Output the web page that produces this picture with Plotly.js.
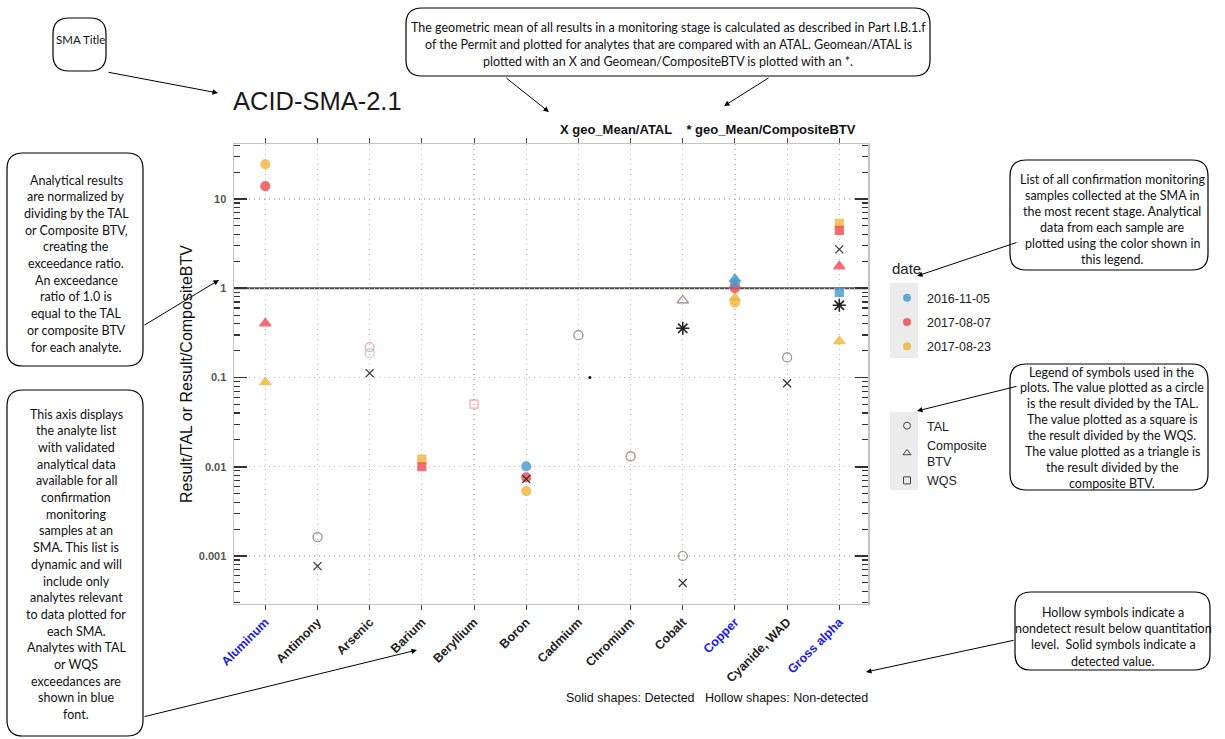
<!DOCTYPE html>
<html><head><meta charset="utf-8">
<script src="https://cdn.plot.ly/plotly-3.0.1.min.js"></script>
<style>body{margin:0;background:#fff}#chart{width:1225px;height:739px}</style>
</head><body><div id="chart"></div>
<script>
// ---------------- data ----------------
const analytes = ['Aluminum','Antimony','Arsenic','Barium','Beryllium','Boron','Cadmium','Chromium','Cobalt','Copper','Cyanide, WAD','Gross alpha'];
const exceedanceAnalytes = ['Aluminum','Copper','Gross alpha'];
const dates = ['2016-11-05','2017-08-07','2017-08-23'];
const dateColors = ['#4a9bd0','#f04d55','#f0b73e'];

// sample 2016-11-05
const s1Analyte  = ['Antimony','Arsenic','Boron','Cadmium','Chromium','Cobalt','Cobalt','Copper','Copper','Cyanide, WAD','Gross alpha'];
const s1Value    = [0.00163,0.187,0.0101,0.298,0.0131,0.00100,0.73,1.15,1.27,0.168,0.90];
const s1Basis    = ['TAL','TAL','TAL','TAL','TAL','TAL','BTV','TAL','BTV','TAL','WQS'];
const s1Detected = [false,false,true,false,false,false,false,true,true,false,true];
// sample 2017-08-07
const s2Analyte  = ['Aluminum','Aluminum','Antimony','Arsenic','Barium','Beryllium','Boron','Cadmium','Chromium','Cobalt','Cobalt','Copper','Copper','Cyanide, WAD','Gross alpha','Gross alpha'];
const s2Value    = [13.9,0.405,0.00163,0.219,0.0100,0.0502,0.0076,0.298,0.0131,0.00100,0.73,1.0,1.08,0.168,4.46,1.76];
const s2Basis    = ['TAL','BTV','TAL','TAL','WQS','WQS','TAL','TAL','TAL','TAL','BTV','TAL','BTV','TAL','WQS','BTV'];
const s2Detected = [true,true,false,false,true,false,true,false,false,false,false,true,true,false,true,true];
// sample 2017-08-23
const s3Analyte  = ['Aluminum','Aluminum','Antimony','Barium','Boron','Cadmium','Chromium','Cobalt','Cobalt','Copper','Copper','Cyanide, WAD','Gross alpha','Gross alpha'];
const s3Value    = [24.5,0.0886,0.00163,0.0122,0.00533,0.298,0.0131,0.00100,0.73,0.69,0.78,0.168,5.35,0.255];
const s3Basis    = ['TAL','BTV','TAL','WQS','TAL','TAL','TAL','TAL','BTV','TAL','BTV','TAL','WQS','BTV'];
const s3Detected = [true,true,false,true,true,false,false,false,false,true,true,false,true,true];

// geometric means
const geoAtalAnalyte = ['Antimony','Arsenic','Boron','Cobalt','Cyanide, WAD','Gross alpha'];
const geoAtalValue   = [0.00077,0.112,0.0073,0.000498,0.0863,2.73];
const geoBtvAnalyte  = ['Cobalt','Gross alpha'];
const geoBtvValue    = [0.356,0.645];
// stray point marker
const dotAnalyte = ['Cadmium'];
const dotValue = [0.1];
const dotJitter = [0.22];

const yTickVals = [0.001,0.01,0.1,1,10];
const yTickText = ['0.001','0.01','0.1','1','10'];
const shapeNames = ['TAL','Composite<br>BTV','WQS'];

// ---------------- layout helpers ----------------
const W = 1225, H = 739;
const ML = 234, MT = 144, PW = 634, PH = 460;
const px = x => (x - ML) / PW;
const py = y => (MT + PH - y) / PH;
const idx = a => analytes.indexOf(a);
const symBase = {TAL:'circle', BTV:'triangle-up', WQS:'square'};
const symSize = {TAL:9, BTV:10, WQS:8};

const traces = [];
const samples = [
  [s1Analyte,s1Value,s1Basis,s1Detected],
  [s2Analyte,s2Value,s2Basis,s2Detected],
  [s3Analyte,s3Value,s3Basis,s3Detected]
];
// draw latest sample first so the earliest (blue) sits on top
[2,1,0].forEach(i=>{
  const [a,v,b,d] = samples[i];
  traces.push({
    type:'scatter', mode:'markers', showlegend:false, hoverinfo:'skip',
    x:a.map(idx), y:v,
    marker:{
      symbol:b.map((bb,k)=>symBase[bb] + (d[k] ? '' : '-open')),
      size:b.map(bb=>symSize[bb]),
      color:dateColors[i],
      opacity:d.map(dd=>dd?0.82:0.5),
      line:{width:1.2, color:dateColors[i]}
    }
  });
});
traces.push({type:'scatter',mode:'markers',showlegend:false,hoverinfo:'skip',
  x:geoAtalAnalyte.map(idx), y:geoAtalValue,
  marker:{symbol:'x-thin-open', size:8, line:{width:1.2,color:'#333'}, color:'#333'}});
traces.push({type:'scatter',mode:'markers',showlegend:false,hoverinfo:'skip',
  x:geoBtvAnalyte.map(idx), y:geoBtvValue,
  marker:{symbol:'asterisk-open', size:11, line:{width:1.6,color:'#222'}, color:'#222'}});
traces.push({type:'scatter',mode:'markers',showlegend:false,hoverinfo:'skip',
  x:dotAnalyte.map((a,k)=>idx(a)+dotJitter[k]), y:dotValue,
  marker:{symbol:'circle', size:3, color:'#000'}});

// legend: dates
dates.forEach((d,i)=>traces.push({type:'scatter',mode:'markers',name:d,x:[null],y:[null],
  legend:'legend', legendgroup:'d'+i, marker:{symbol:'circle',size:8,color:dateColors[i],opacity:0.85}}));
// legend: shapes
['circle-open','triangle-up-open','square-open'].forEach((s,i)=>traces.push({type:'scatter',mode:'markers',
  name:shapeNames[i], x:[null], y:[null], legend:'legend2', legendgroup:'s'+i,
  marker:{symbol:s,size:7,color:'#444',line:{width:1,color:'#444'}}}));

// minor ticks
const minorVals = [];
for (let e=-4;e<=1;e++) for (let m=2;m<=9;m++) minorVals.push(m*Math.pow(10,e));

// ---------------- callouts ----------------
const shapes = [];
const annotations = [];
const calloutFont = {family:'Lato, Open Sans, sans-serif', size:12.5, color:'#111'};
function roundRect(x0,y0,x1,y1,r){
  const P=(x,y)=>px(x)+','+py(y);
  return 'M'+P(x0+r,y0)+' L'+P(x1-r,y0)+' Q'+P(x1,y0)+' '+P(x1,y0+r)+
    ' L'+P(x1,y1-r)+' Q'+P(x1,y1)+' '+P(x1-r,y1)+' L'+P(x0+r,y1)+
    ' Q'+P(x0,y1)+' '+P(x0,y1-r)+' L'+P(x0,y0+r)+' Q'+P(x0,y0)+' '+P(x0+r,y0)+' Z';
}
function callout(box, lines, cx, y0, dy, arrows, fsize){
  shapes.push({type:'path', xref:'paper', yref:'paper', path:roundRect(box[0],box[1],box[2],box[3],16),
    line:{color:'#000',width:1.2}, fillcolor:'rgba(255,255,255,0)', layer:'above'});
  const f = fsize ? Object.assign({}, calloutFont, {size:fsize}) : calloutFont;
  lines.forEach((t,i)=>annotations.push({xref:'paper',yref:'paper',x:px(cx),y:py(y0+i*dy),
    text:t,showarrow:false,xanchor:'center',yanchor:'middle',font:f}));
  (arrows||[]).forEach(a=>annotations.push({xref:'paper',yref:'paper',x:px(a[2]),y:py(a[3]),
    ax:a[0]-a[2], ay:a[1]-a[3], text:'', showarrow:true, arrowhead:2, arrowsize:1.1, arrowwidth:1,
    arrowcolor:'#000', standoff:0, startstandoff:0}));
}
callout([53,18,106,71],['SMA Title'],80,40,17,[[107,72,218,93]],11.5);
callout([406,8,930,76],[
  'The geometric mean of all results in a monitoring stage is calculated as described in Part I.B.1.f',
  'of the Permit and plotted for analytes that are compared with an ATAL. Geomean/ATAL is',
  'plotted with an X and Geomean/CompositeBTV is plotted with an *.'],668,27,17.5,
  [[505,77,549,112],[770,77,724,106]]);
callout([7,153,143,366],['Analytical results','are normalized by','dividing by the TAL','or Composite BTV,',
  'creating the','exceedance ratio.','An exceedance','ratio of 1.0 is','equal to the TAL','or composite BTV',
  'for each analyte.'],76,180,16.7,[[143,326,219,280]]);
callout([7,390,143,736],['This axis displays','the analyte list','with validated','analytical data',
  'available for all','confirmation','monitoring','samples at an','SMA. This list is','dynamic and will',
  'include only','analytes relevant','to data plotted for','each SMA.','Analytes with TAL','or WQS',
  'exceedances are','shown in blue','font.'],76,414,16.7,[[143,717,417,650]]);
callout([1010,160,1208,270],['List of all confirmation monitoring','samples collected at the SMA in',
  'the most recent stage. Analytical','data from each sample are','plotted using the color shown in',
  'this legend.'],1112,179,16,[[1018,242,917,276]]);
callout([1010,364,1208,490],['Legend of symbols used in the','plots. The value plotted as a circle',
  'is the result divided by the TAL.','The value plotted as a square is','the result divided by the WQS.',
  'The value plotted as a triangle is','the result divided by the','composite BTV.'],1112,372,15.9,
  [[1018,386,917,411]]);
callout([1015,592,1210,670],['Hollow symbols indicate a','nondetect result below quantitation',
  'level.  Solid symbols indicate a','detected value.'],1113,612,16.4,[[1015,640,866,672]]);

// chart texts
annotations.push({xref:'paper',yref:'paper',x:px(858),y:py(129),xanchor:'right',yanchor:'middle',showarrow:false,
  text:'<b>X geo_Mean/ATAL    * geo_Mean/CompositeBTV</b>',font:{family:'Liberation Sans, Arial',size:13,color:'#111'}});
annotations.push({xref:'paper',yref:'paper',x:px(870),y:py(698),xanchor:'right',yanchor:'middle',showarrow:false,
  text:'Solid shapes: Detected   Hollow shapes: Non-detected',font:{family:'Liberation Sans, Arial',size:12.5,color:'#111'}});
annotations.push({xref:'paper',yref:'paper',x:px(890),y:py(268),xanchor:'left',yanchor:'middle',showarrow:false,
  text:'date',font:{family:'Liberation Sans, Arial',size:15,color:'#222'}});

// legend key backgrounds
shapes.push({type:'rect',xref:'paper',yref:'paper',x0:px(890),x1:px(918),y0:py(358),y1:py(283),fillcolor:'#ececec',line:{width:0},layer:'below'});
shapes.push({type:'rect',xref:'paper',yref:'paper',x0:px(890),x1:px(918),y0:py(490),y1:py(412),fillcolor:'#ececec',line:{width:0},layer:'below'});
// ratio = 1 reference line
shapes.push({type:'line',xref:'paper',yref:'y',x0:0,x1:1,y0:1,y1:1,line:{color:'#4a4a4a',width:1.8},layer:'below'});

const tickText = analytes.map(a=> exceedanceAnalytes.includes(a) ? '<span style="color:#1c1ce6">'+a+'</span>' : a);

const layout = {
  width:W, height:H, margin:{l:ML, r:W-ML-PW, t:MT, b:H-MT-PH, pad:0},
  paper_bgcolor:'#fff', plot_bgcolor:'#fff',
  font:{family:'Liberation Sans, Arial, sans-serif', color:'#222'},
  title:{text:'ACID-SMA-2.1', x:233/W, xanchor:'left', xref:'container', y:1-101/H, yanchor:'middle', yref:'container',
    font:{size:25.5, color:'#1a1a1a'}},
  xaxis:{range:[-0.6,11.55], tickvals:analytes.map((a,i)=>i), ticktext:tickText, tickangle:-45,
    tickfont:{size:12.5, color:'#222', weight:'bold'}, ticks:'outside', ticklen:5, tickcolor:'#444',
    showline:true, linecolor:'#c4c4c4', linewidth:1, mirror:'ticks', showgrid:true, gridcolor:'#bdbdbd',
    griddash:'1px,4px', gridwidth:1.2, zeroline:false, fixedrange:true},
  yaxis:{type:'log', range:[Math.log10(0.00029), Math.log10(41.3)], tickvals:yTickVals, ticktext:yTickText,
    ticks:'inside', ticklen:13, tickwidth:1.5, tickcolor:'#333', ticklabelstandoff:4,
    tickfont:{size:11, color:'#555', weight:'bold'},
    minor:{tickvals:minorVals, ticks:'inside', ticklen:6, tickwidth:1.2, tickcolor:'#333', showgrid:false},
    showline:true, linecolor:'#c4c4c4', linewidth:1.5, mirror:'ticks', showgrid:true, gridcolor:'#bdbdbd',
    griddash:'1px,4px', gridwidth:1.2, zeroline:false,
    title:{text:'Result/TAL or Result/CompositeBTV', font:{size:16, color:'#111'}}},
  legend:{x:px(887), y:py(283), xanchor:'left', yanchor:'top', bgcolor:'rgba(0,0,0,0)',
    font:{size:12.5, color:'#222'}, tracegroupgap:5, itemwidth:30},
  legend2:{x:px(887), y:py(411), xanchor:'left', yanchor:'top', bgcolor:'rgba(0,0,0,0)',
    font:{size:12.5, color:'#222'}, tracegroupgap:0, itemwidth:30},
  shapes:shapes, annotations:annotations, showlegend:true
};
Plotly.newPlot('chart', traces, layout, {staticPlot:true, displayModeBar:false});
</script></body></html>
